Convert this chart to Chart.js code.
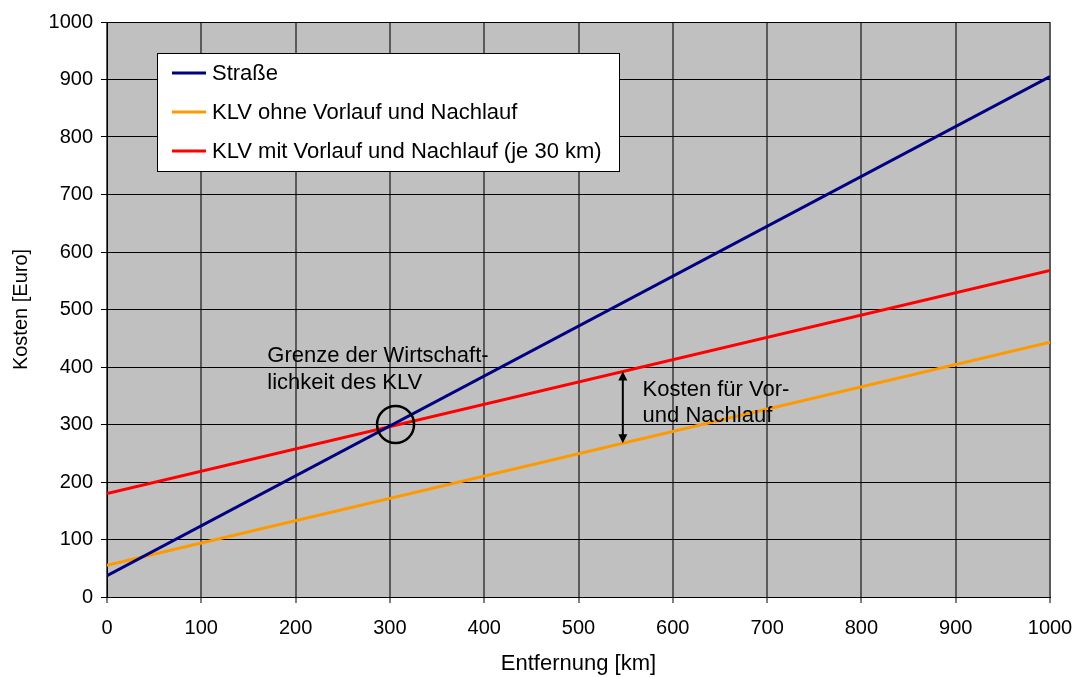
<!DOCTYPE html>
<html lang="de">
<head>
<meta charset="utf-8">
<title>Kostenvergleich Straße / KLV</title>
<script src="https://cdn.jsdelivr.net/npm/chart.js@4.4.1/dist/chart.umd.min.js"></script>
<style>
  html, body { margin: 0; padding: 0; background: #ffffff; }
  #wrap { width: 1075px; height: 677px; }
</style>
</head>
<body>
<div id="wrap"><canvas id="chart" width="1075" height="677"></canvas></div>
<script>
// Entfernung in km (Endpunkte der linearen Kostenfunktionen)
const distances = [0, 1000];

// Kosten in Euro
const costRoad = [37, 905];
const costKlvPlain = [55, 443];
const costKlvPrePost = [180, 568];

const seriesLabels = [
  'Straße',
  'KLV ohne Vorlauf und Nachlauf',
  'KLV mit Vorlauf und Nachlauf (je 30 km)'
];
const seriesColors = ['#000080', '#ff9900', '#ff0000'];

const xTicks = [0, 100, 200, 300, 400, 500, 600, 700, 800, 900, 1000];
const yTicks = [0, 100, 200, 300, 400, 500, 600, 700, 800, 900, 1000];

// Anmerkungen im Diagramm
const breakEven = { x: 306, y: 300 };
const breakEvenText = ['Grenze der Wirtschaft-', 'lichkeit des KLV'];
const breakEvenTextPos = { x: 170, y: [409, 362] };
const gapAt = 547;
const gapText = ['Kosten für Vor-', 'und Nachlauf'];
const gapTextPos = { x: 568, y: [350, 305] };

const FONT = '"Liberation Sans", Arial, Helvetica, sans-serif';
const TEXT_SIZE = 22;

function toPoints(xs, ys) {
  return xs.map((x, i) => ({ x: x, y: ys[i] }));
}
function valueAt(xs, ys, x) {
  const t = (x - xs[0]) / (xs[1] - xs[0]);
  return ys[0] + t * (ys[1] - ys[0]);
}

const plotBackground = {
  id: 'plotBackground',
  beforeDraw(chart) {
    const { ctx, chartArea: a } = chart;
    ctx.save();
    ctx.fillStyle = '#c0c0c0';
    ctx.fillRect(a.left, a.top, a.right - a.left, a.bottom - a.top);
    ctx.restore();
  }
};

const notes = {
  id: 'notes',
  afterDatasetsDraw(chart) {
    const { ctx, scales: { x, y } } = chart;
    ctx.save();
    ctx.strokeStyle = '#000000';
    ctx.fillStyle = '#000000';

    // Kreis um den Schnittpunkt
    ctx.lineWidth = 2.5;
    ctx.beginPath();
    ctx.arc(x.getPixelForValue(breakEven.x), y.getPixelForValue(breakEven.y), 18.5, 0, Math.PI * 2);
    ctx.stroke();

    // Doppelpfeil zwischen den beiden KLV-Linien
    const ax = x.getPixelForValue(gapAt);
    const yTop = y.getPixelForValue(valueAt(distances, costKlvPrePost, gapAt));
    const yBot = y.getPixelForValue(valueAt(distances, costKlvPlain, gapAt));
    const head = 9, half = 4.5;
    ctx.lineWidth = 2;
    ctx.beginPath();
    ctx.moveTo(ax, yTop + head - 1);
    ctx.lineTo(ax, yBot - head + 1);
    ctx.stroke();
    ctx.beginPath();
    ctx.moveTo(ax, yTop);
    ctx.lineTo(ax - half, yTop + head);
    ctx.lineTo(ax + half, yTop + head);
    ctx.closePath();
    ctx.fill();
    ctx.beginPath();
    ctx.moveTo(ax, yBot);
    ctx.lineTo(ax - half, yBot - head);
    ctx.lineTo(ax + half, yBot - head);
    ctx.closePath();
    ctx.fill();

    // Beschriftungen
    ctx.font = TEXT_SIZE + 'px ' + FONT;
    ctx.textAlign = 'left';
    ctx.textBaseline = 'alphabetic';
    breakEvenText.forEach((t, i) => {
      ctx.fillText(t, x.getPixelForValue(breakEvenTextPos.x), y.getPixelForValue(breakEvenTextPos.y[i]));
    });
    gapText.forEach((t, i) => {
      ctx.fillText(t, x.getPixelForValue(gapTextPos.x), y.getPixelForValue(gapTextPos.y[i]));
    });
    ctx.restore();
  },
  afterDraw(chart) {
    // Legende im Diagrammbereich
    const { ctx } = chart;
    const box = { left: 157, top: 53, width: 462, height: 118 };
    ctx.save();
    ctx.fillStyle = '#ffffff';
    ctx.fillRect(box.left, box.top, box.width, box.height);
    ctx.strokeStyle = '#000000';
    ctx.lineWidth = 1;
    ctx.strokeRect(box.left + 0.5, box.top + 0.5, box.width, box.height);
    ctx.font = TEXT_SIZE + 'px ' + FONT;
    ctx.textAlign = 'left';
    ctx.textBaseline = 'middle';
    chart.data.datasets.forEach((ds, i) => {
      const rowY = 73 + i * 39;
      ctx.strokeStyle = ds.borderColor;
      ctx.lineWidth = 3;
      ctx.beginPath();
      ctx.moveTo(172, rowY);
      ctx.lineTo(206, rowY);
      ctx.stroke();
      ctx.fillStyle = '#000000';
      ctx.fillText(ds.label, 212, rowY + 1);
    });
    ctx.restore();
  }
};

new Chart(document.getElementById('chart'), {
  type: 'line',
  data: {
    datasets: [
      { label: seriesLabels[0], data: toPoints(distances, costRoad), borderColor: seriesColors[0] },
      { label: seriesLabels[1], data: toPoints(distances, costKlvPlain), borderColor: seriesColors[1] },
      { label: seriesLabels[2], data: toPoints(distances, costKlvPrePost), borderColor: seriesColors[2] }
    ].map(d => Object.assign(d, { borderWidth: 3, pointRadius: 0, fill: false, tension: 0 }))
  },
  options: {
    responsive: false,
    animation: false,
    layout: { padding: { left: 0, right: 25, top: 22, bottom: 0 } },
    plugins: {
      legend: { display: false },
      tooltip: { enabled: false }
    },
    scales: {
      x: {
        type: 'linear',
        min: 0,
        max: 1000,
        afterBuildTicks(scale) { scale.ticks = xTicks.map(v => ({ value: v })); },
        afterFit(scale) { scale.height = 80; scale.paddingLeft = 0; scale.paddingRight = 0; },
        ticks: { color: '#000000', font: { family: FONT, size: 20 }, padding: 13, maxRotation: 0, callback: v => String(v) },
        grid: { color: '#5a5a5a', lineWidth: 2, tickColor: '#000000', tickLength: 6, tickWidth: 1 },
        border: { color: '#000000', width: 1 },
        title: { display: true, text: 'Entfernung [km]', color: '#000000', font: { family: FONT, size: 22 }, padding: { top: 0, bottom: 0 } }
      },
      y: {
        type: 'linear',
        min: 0,
        max: 1000,
        afterBuildTicks(scale) { scale.ticks = yTicks.map(v => ({ value: v })); },
        afterFit(scale) { scale.width = 107; scale.paddingTop = 0; scale.paddingBottom = 0; },
        ticks: { color: '#000000', font: { family: FONT, size: 20 }, padding: 8, callback: v => String(v) },
        grid: { color: '#000000', lineWidth: 1, tickColor: '#000000', tickLength: 6 },
        border: { color: '#000000', width: 1 },
        title: { display: true, text: 'Kosten [Euro]', color: '#000000', font: { family: FONT, size: 20 }, padding: { top: 9, bottom: 0 } }
      }
    }
  },
  plugins: [plotBackground, notes]
});
</script>
</body>
</html>
